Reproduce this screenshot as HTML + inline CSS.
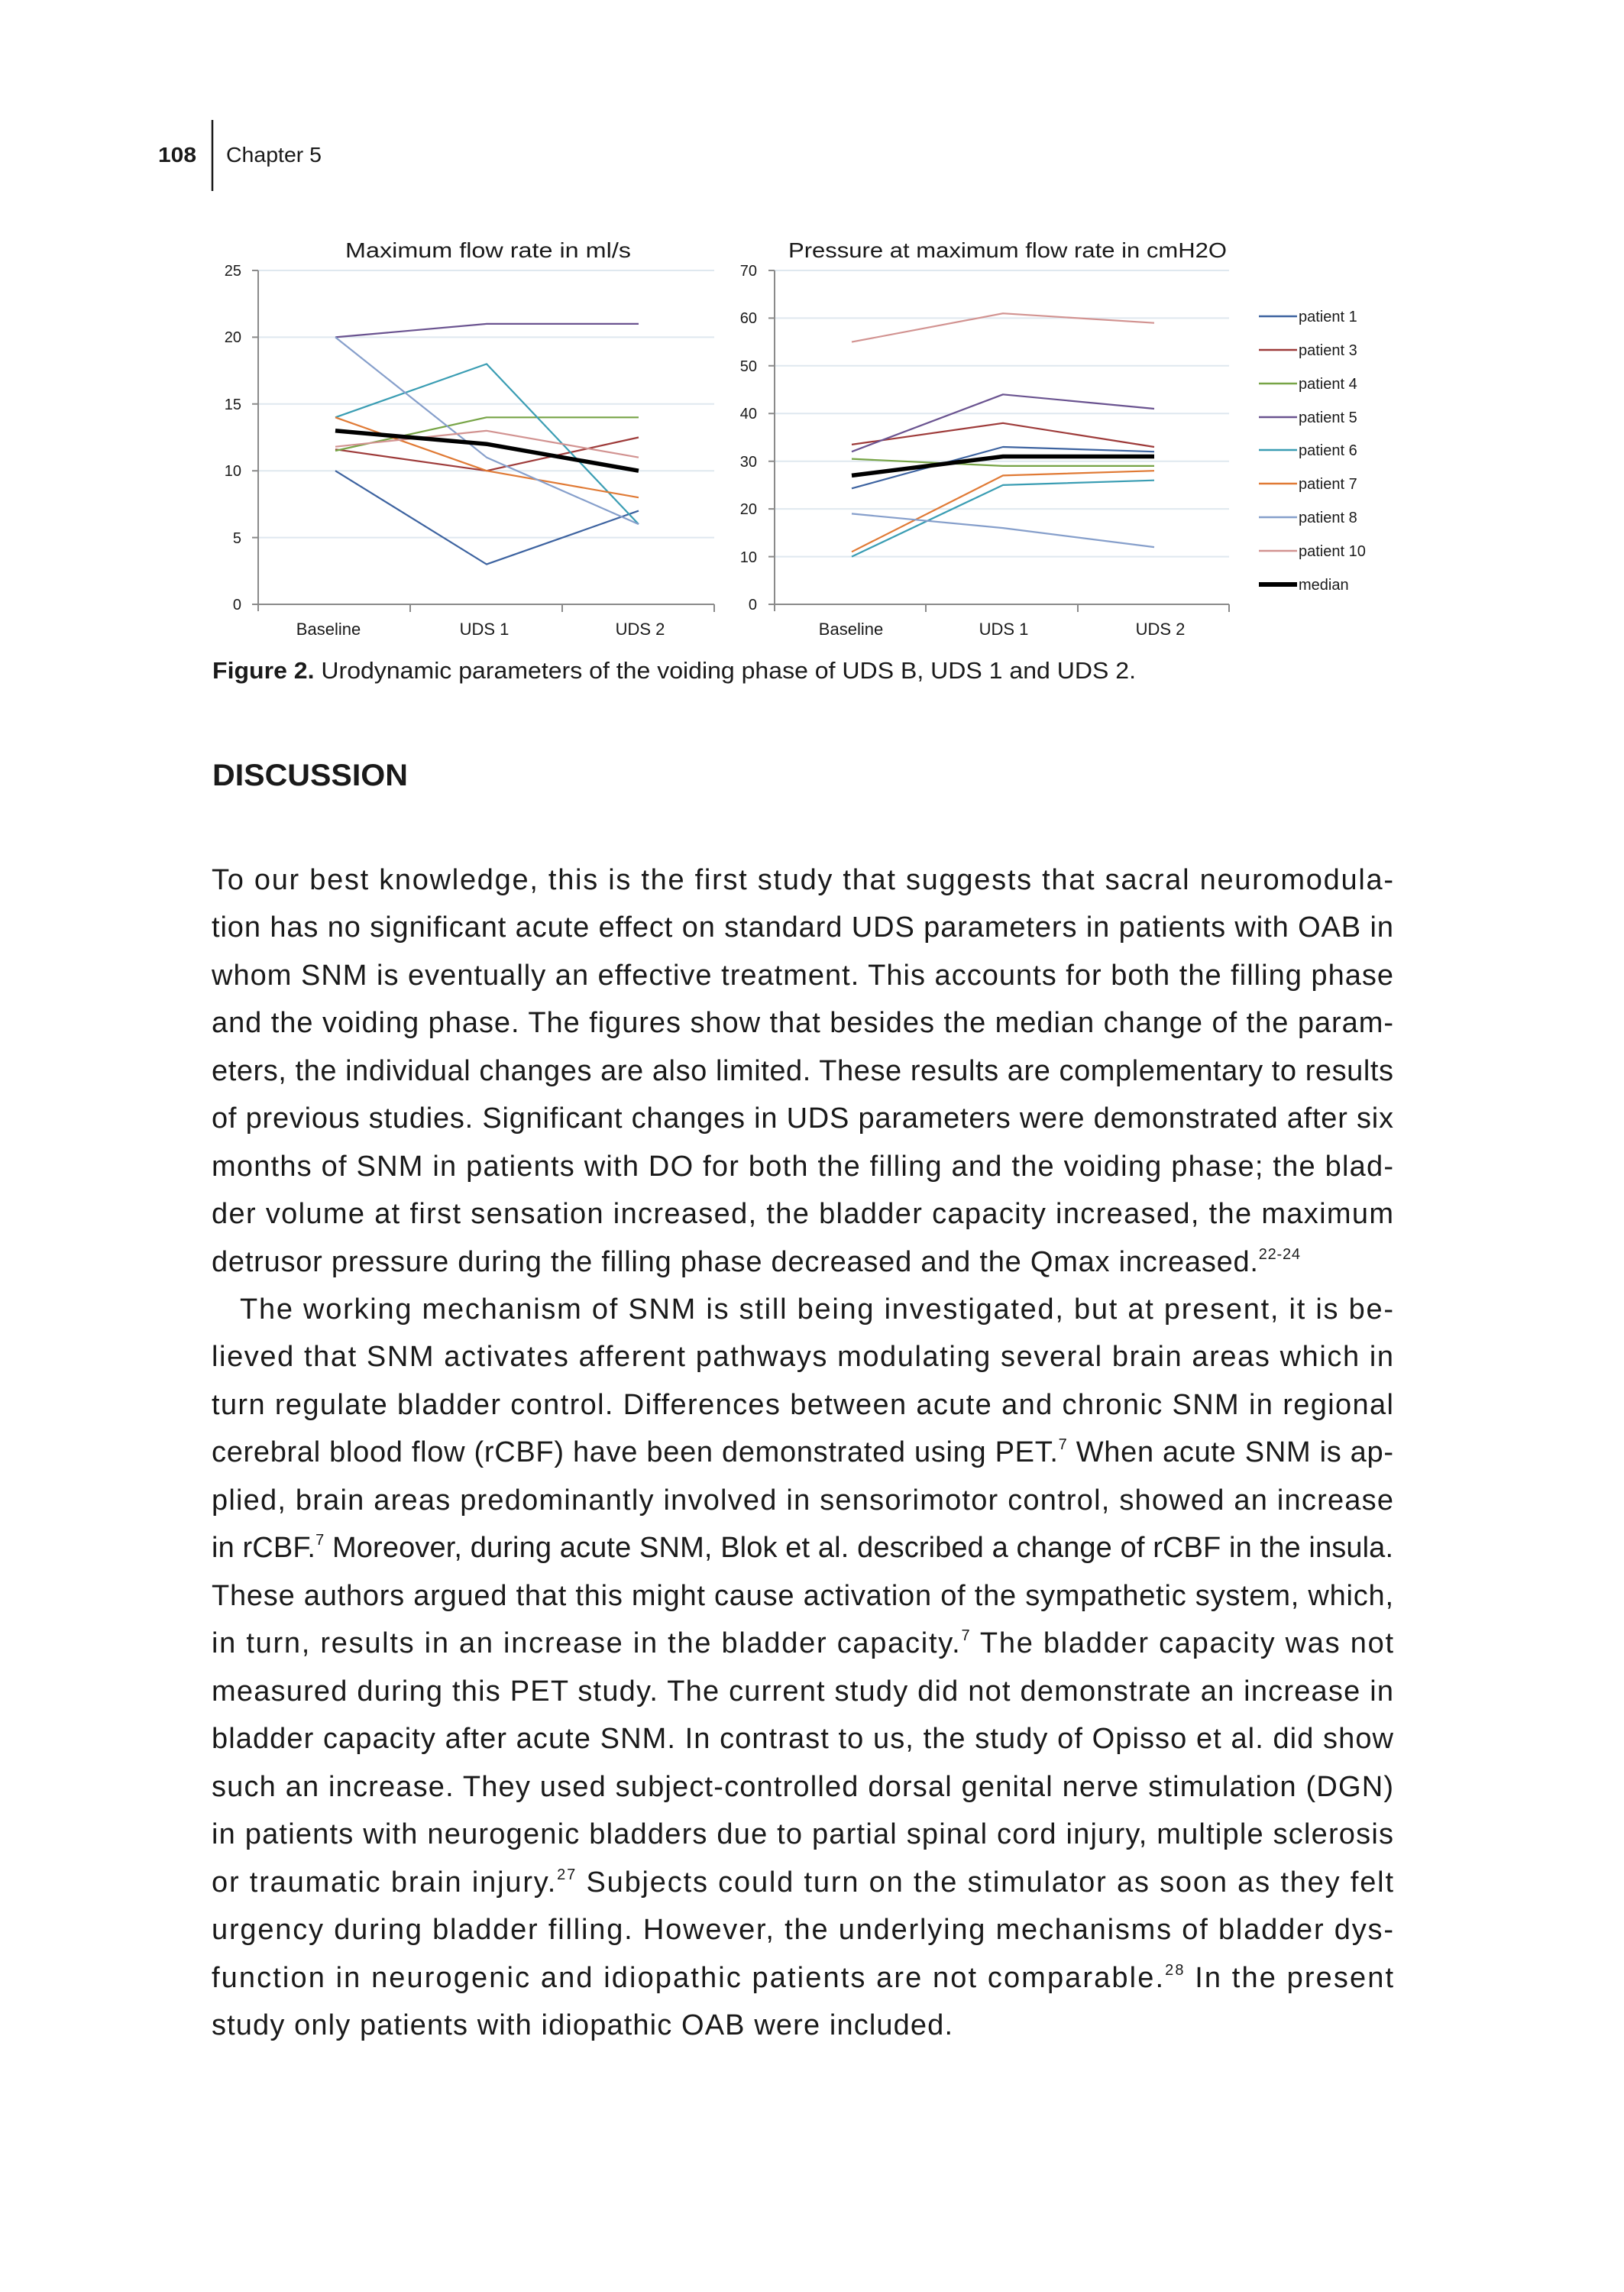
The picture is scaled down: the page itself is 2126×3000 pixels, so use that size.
<!DOCTYPE html>
<html><head><meta charset="utf-8"><style>
html,body{margin:0;padding:0;background:#fff;}
svg{display:block;}
text{font-family:"Liberation Sans",sans-serif;fill:#1a1a1a;}
</style></head><body>
<svg width="2126" height="3000" viewBox="0 0 2126 3000" xmlns="http://www.w3.org/2000/svg">
<text x="207" y="212" font-size="28" font-weight="bold" textLength="50" lengthAdjust="spacingAndGlyphs">108</text>
<line x1="278" y1="157" x2="278" y2="250" stroke="#1a1a1a" stroke-width="2.5"/>
<text x="296" y="212" font-size="28" textLength="125" lengthAdjust="spacingAndGlyphs">Chapter 5</text>

<g stroke="#dfe8ef" stroke-width="2">
<line x1="338" y1="354" x2="935" y2="354"/><line x1="338" y1="441.4" x2="935" y2="441.4"/>
<line x1="338" y1="528.8" x2="935" y2="528.8"/><line x1="338" y1="616.2" x2="935" y2="616.2"/>
<line x1="338" y1="703.6" x2="935" y2="703.6"/>
<line x1="1014" y1="354" x2="1609" y2="354"/><line x1="1014" y1="416.4" x2="1609" y2="416.4"/>
<line x1="1014" y1="478.8" x2="1609" y2="478.8"/><line x1="1014" y1="541.3" x2="1609" y2="541.3"/>
<line x1="1014" y1="603.7" x2="1609" y2="603.7"/><line x1="1014" y1="666.1" x2="1609" y2="666.1"/>
<line x1="1014" y1="728.6" x2="1609" y2="728.6"/>
</g>
<g stroke="#8a8a8a" stroke-width="2" fill="none">
<path d="M338 354V800M330 354H338M330 441.4H338M330 528.8H338M330 616.2H338M330 703.6H338M330 791H935M537 791V801M736 791V801M935 791V801"/>
<path d="M1014 354V800M1006 354H1014M1006 416.4H1014M1006 478.8H1014M1006 541.3H1014M1006 603.7H1014M1006 666.1H1014M1006 728.6H1014M1006 791H1609M1212 791V801M1411 791V801M1609 791V801"/>
</g>
<g font-size="20" text-anchor="end">
<text x="316" y="361">25</text><text x="316" y="448">20</text><text x="316" y="536">15</text>
<text x="316" y="623">10</text><text x="316" y="711">5</text><text x="316" y="798">0</text>
<text x="991" y="361">70</text><text x="991" y="423">60</text><text x="991" y="486">50</text>
<text x="991" y="548">40</text><text x="991" y="611">30</text><text x="991" y="673">20</text>
<text x="991" y="736">10</text><text x="991" y="798">0</text>
</g>
<g font-size="22" text-anchor="middle">
<text x="430" y="831">Baseline</text><text x="634" y="831">UDS 1</text><text x="838" y="831">UDS 2</text>
<text x="1114" y="831">Baseline</text><text x="1314" y="831">UDS 1</text><text x="1519" y="831">UDS 2</text>
</g>
<text x="639" y="337" font-size="28" text-anchor="middle" textLength="374" lengthAdjust="spacingAndGlyphs">Maximum flow rate in ml/s</text>
<text x="1319" y="337" font-size="28" text-anchor="middle" textLength="574" lengthAdjust="spacingAndGlyphs">Pressure at maximum flow rate in cmH2O</text>

<g fill="none" stroke-width="2.2" stroke-linejoin="round">
<polyline stroke="#3d63a0" points="439,616.2 637,738.6 836,668.6"/>
<polyline stroke="#9e3b3a" points="439,588.2 637,616.2 836,572.5"/>
<polyline stroke="#77a446" points="439,590 637,546.3 836,546.3"/>
<polyline stroke="#6a5390" points="439,441.4 637,423.9 836,423.9"/>
<polyline stroke="#3a9db3" points="439,546.3 637,476.4 836,686.1"/>
<polyline stroke="#e07a35" points="439,546.3 637,616.2 836,651.2"/>
<polyline stroke="#869fcb" points="439,441.4 637,598.7 836,686.1"/>
<polyline stroke="#d29391" points="439,584.7 637,563.8 836,598.7"/>
<polyline stroke="#000" stroke-width="5.5" points="439,563.8 637,581.2 836,616.2"/>

<polyline stroke="#3d63a0" points="1115,639.3 1313,585 1511,591.2"/>
<polyline stroke="#9e3b3a" points="1115,581.9 1313,553.8 1511,585"/>
<polyline stroke="#77a446" points="1115,600.6 1313,609.9 1511,609.9"/>
<polyline stroke="#6a5390" points="1115,591.2 1313,516.3 1511,535"/>
<polyline stroke="#3a9db3" points="1115,728.6 1313,634.9 1511,628.7"/>
<polyline stroke="#e07a35" points="1115,722.3 1313,622.4 1511,616.2"/>
<polyline stroke="#869fcb" points="1115,672.4 1313,691.1 1511,716.1"/>
<polyline stroke="#d29391" points="1115,447.6 1313,410.2 1511,422.7"/>
<polyline stroke="#000" stroke-width="5.5" points="1115,622.4 1313,597.5 1511,597.5"/>
</g>
<g stroke-width="2.5">
<line x1="1648" y1="414" x2="1698" y2="414" stroke="#3d63a0"/>
<line x1="1648" y1="458" x2="1698" y2="458" stroke="#9e3b3a"/>
<line x1="1648" y1="502" x2="1698" y2="502" stroke="#77a446"/>
<line x1="1648" y1="546" x2="1698" y2="546" stroke="#6a5390"/>
<line x1="1648" y1="589" x2="1698" y2="589" stroke="#3a9db3"/>
<line x1="1648" y1="633" x2="1698" y2="633" stroke="#e07a35"/>
<line x1="1648" y1="677" x2="1698" y2="677" stroke="#869fcb"/>
<line x1="1648" y1="721" x2="1698" y2="721" stroke="#d29391"/>
<line x1="1648" y1="765" x2="1698" y2="765" stroke="#000" stroke-width="6"/>
</g>
<g font-size="20">
<text x="1700" y="421">patient 1</text><text x="1700" y="465">patient 3</text>
<text x="1700" y="509">patient 4</text><text x="1700" y="553">patient 5</text>
<text x="1700" y="596">patient 6</text><text x="1700" y="640">patient 7</text>
<text x="1700" y="684">patient 8</text><text x="1700" y="728">patient 10</text>
<text x="1700" y="772">median</text>
</g>

<text x="278" y="888" font-size="31" textLength="1209" lengthAdjust="spacingAndGlyphs"><tspan font-weight="bold">Figure 2.</tspan> Urodynamic parameters of the voiding phase of UDS B, UDS 1 and UDS 2.</text>
<text x="278" y="1028" font-size="40" font-weight="bold" textLength="256" lengthAdjust="spacingAndGlyphs">DISCUSSION</text>

<g font-size="38" lengthAdjust="spacing">
<text x="277" y="1164" textLength="1547">To our best knowledge, this is the first study that suggests that sacral neuromodula-</text>
<text x="277" y="1226" textLength="1547">tion has no significant acute effect on standard UDS parameters in patients with OAB in</text>
<text x="277" y="1289" textLength="1547">whom SNM is eventually an effective treatment. This accounts for both the filling phase</text>
<text x="277" y="1351" textLength="1547">and the voiding phase. The figures show that besides the median change of the param-</text>
<text x="277" y="1414" textLength="1547">eters, the individual changes are also limited. These results are complementary to results</text>
<text x="277" y="1476" textLength="1547">of previous studies. Significant changes in UDS parameters were demonstrated after six</text>
<text x="277" y="1539" textLength="1547">months of SNM in patients with DO for both the filling and the voiding phase; the blad-</text>
<text x="277" y="1601" textLength="1547">der volume at first sensation increased, the bladder capacity increased, the maximum</text>
<text x="277" y="1664" textLength="1425">detrusor pressure during the filling phase decreased and the Qmax increased.<tspan font-size="20" dy="-16">22-24</tspan></text>
<text x="314" y="1726" textLength="1510">The working mechanism of SNM is still being investigated, but at present, it is be-</text>
<text x="277" y="1788" textLength="1547">lieved that SNM activates afferent pathways modulating several brain areas which in</text>
<text x="277" y="1851" textLength="1547">turn regulate bladder control. Differences between acute and chronic SNM in regional</text>
<text x="277" y="1913" textLength="1547">cerebral blood flow (rCBF) have been demonstrated using PET.<tspan font-size="20" dy="-16">7</tspan><tspan dy="16"> When acute SNM is ap-</tspan></text>
<text x="277" y="1976" textLength="1547">plied, brain areas predominantly involved in sensorimotor control, showed an increase</text>
<text x="277" y="2038" textLength="1547">in rCBF.<tspan font-size="20" dy="-16">7</tspan><tspan dy="16"> Moreover, during acute SNM, Blok et al. described a change of rCBF in the insula.</tspan></text>
<text x="277" y="2101" textLength="1547">These authors argued that this might cause activation of the sympathetic system, which,</text>
<text x="277" y="2163" textLength="1547">in turn, results in an increase in the bladder capacity.<tspan font-size="20" dy="-16">7</tspan><tspan dy="16"> The bladder capacity was not</tspan></text>
<text x="277" y="2226" textLength="1547">measured during this PET study. The current study did not demonstrate an increase in</text>
<text x="277" y="2288" textLength="1547">bladder capacity after acute SNM. In contrast to us, the study of Opisso et al. did show</text>
<text x="277" y="2351" textLength="1547">such an increase. They used subject-controlled dorsal genital nerve stimulation (DGN)</text>
<text x="277" y="2413" textLength="1547">in patients with neurogenic bladders due to partial spinal cord injury, multiple sclerosis</text>
<text x="277" y="2476" textLength="1547">or traumatic brain injury.<tspan font-size="20" dy="-16">27</tspan><tspan dy="16"> Subjects could turn on the stimulator as soon as they felt</tspan></text>
<text x="277" y="2538" textLength="1547">urgency during bladder filling. However, the underlying mechanisms of bladder dys-</text>
<text x="277" y="2601" textLength="1547">function in neurogenic and idiopathic patients are not comparable.<tspan font-size="20" dy="-16">28</tspan><tspan dy="16"> In the present</tspan></text>
<text x="277" y="2663" textLength="970">study only patients with idiopathic OAB were included.</text>
</g>
</svg>
</body></html>
